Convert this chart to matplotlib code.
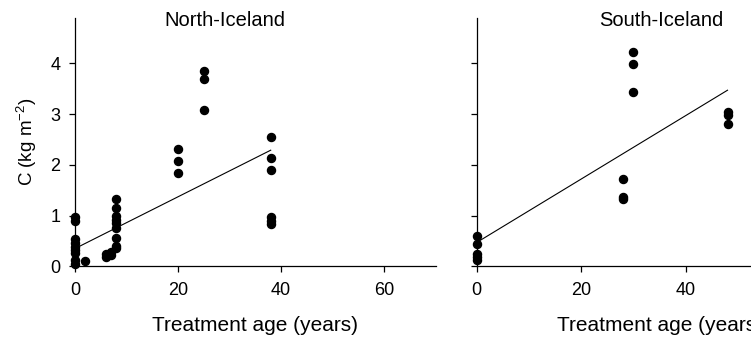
import matplotlib
matplotlib.use("Agg")
import matplotlib.pyplot as plt
import numpy as np

plt.rcParams['font.family'] = ['Liberation Sans', 'DejaVu Sans']
plt.rcParams['mathtext.fontset'] = 'custom'
plt.rcParams['mathtext.rm'] = 'Liberation Sans'
plt.rcParams['mathtext.default'] = 'regular'

# North-Iceland data
north_x = [0, 0, 0, 0, 0, 0, 0, 0, 0,
           2,
           6, 6, 7, 7,
           8, 8, 8, 8, 8, 8, 8, 8, 8,
           20, 20, 20,
           25, 25, 25,
           38, 38, 38, 38, 38, 38]
north_y = [0.98, 0.90, 0.53, 0.45, 0.39, 0.32, 0.26, 0.12, 0.05,
           0.11,
           0.18, 0.24, 0.22, 0.28,
           1.33, 1.14, 1.00, 0.92, 0.85, 0.75, 0.55, 0.40, 0.36,
           2.32, 2.07, 1.83,
           3.85, 3.69, 3.08,
           2.55, 2.14, 1.90, 0.98, 0.90, 0.84]
north_fit = (0.35, 0.051)   # intercept, slope
north_fit_range = (0, 38)

# South-Iceland data
south_x = [0, 0, 0, 0, 0,
           28, 28, 28,
           30, 30, 30,
           48, 48, 48]
south_y = [0.60, 0.43, 0.24, 0.18, 0.13,
           1.72, 1.37, 1.32,
           4.22, 3.99, 3.43,
           3.05, 2.98, 2.80]
south_fit = (0.47, 0.0625)
south_fit_range = (0, 48)

xticks = [0, 20, 40, 60]
yticks = [0, 1, 2, 3, 4]

fig = plt.figure(figsize=(7.51, 3.39), dpi=100)
ax1 = fig.add_axes([0.0999, 0.2144, 0.480, 0.7336])
ax2 = fig.add_axes([0.6348, 0.2144, 0.487, 0.7336])

def style(ax, xs, ys, fit, rng, title, tx, show_ylabels):
    ax.plot(xs, ys, 'o', color='black', ms=5.8, clip_on=False, zorder=3)
    xx = np.array(rng, dtype=float)
    ax.plot(xx, fit[0] + fit[1] * xx, color='black', lw=0.8)
    ax.set_xlim(0, 70)
    ax.set_ylim(0, 4.9)
    ax.set_xticks(xticks)
    ax.set_yticks(yticks)
    for s in ['top', 'right']:
        ax.spines[s].set_visible(False)
    for s in ['left', 'bottom']:
        ax.spines[s].set_linewidth(0.9)
    ax.tick_params(direction='out', length=4.5, width=0.9, labelsize=13)
    ax.tick_params(axis='x', pad=7)
    ax.tick_params(axis='y', pad=6)
    if not show_ylabels:
        ax.tick_params(axis='y', labelleft=False)
    ax.set_xlabel('Treatment age (years)', fontsize=15, labelpad=12)
    ax.text(tx, 0.99, title, transform=ax.transAxes, ha='center', va='center', fontsize=14.5)

style(ax1, north_x, north_y, north_fit, north_fit_range, 'North-Iceland', 0.415, True)
style(ax2, south_x, south_y, south_fit, south_fit_range, 'South-Iceland', 0.505, False)
ax1.set_ylabel('C (kg m$^{-2}$)', fontsize=13.5, labelpad=8)

fig.savefig('out.png', dpi=100)
